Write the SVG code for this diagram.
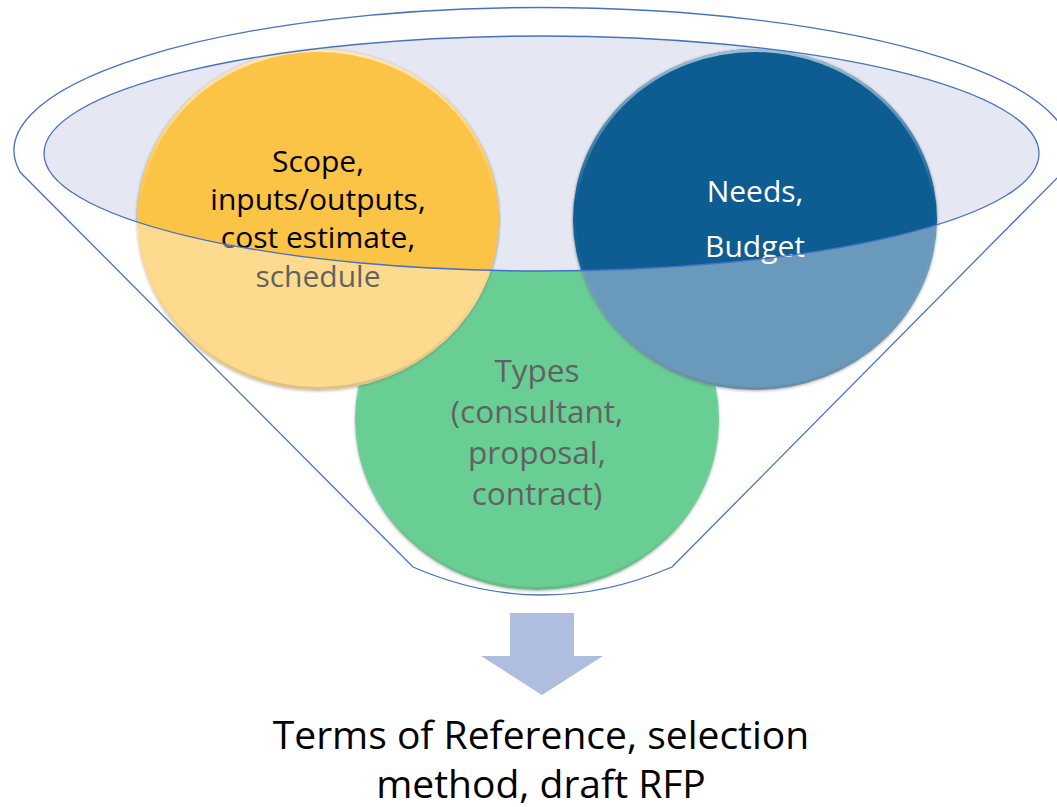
<svg xmlns="http://www.w3.org/2000/svg" width="1057" height="807" viewBox="0 0 1057 807">
<style>
.outline{fill:none;stroke:#4472C4;stroke-width:1.3}
.lbl{font-family:"Open Sans","Liberation Sans",sans-serif;text-anchor:middle}
.c30{font-size:30px}
.c32{font-size:31.5px}
.c40{font-size:39px}
.bev{fill:none;stroke:url(#bevel);stroke-width:3}
</style>
<defs>
<filter id="sh" x="-10%" y="-10%" width="120%" height="120%">
<feDropShadow dx="0" dy="1" stdDeviation="1.8" flood-color="#000" flood-opacity="0.5"/>
</filter>
<linearGradient id="bevel" x1="0" y1="0" x2="0" y2="1">
<stop offset="0" stop-color="#fff" stop-opacity="0.6"/>
<stop offset="0.45" stop-color="#fff" stop-opacity="0"/>
<stop offset="1" stop-color="#000" stop-opacity="0.2"/>
</linearGradient>
</defs>
<rect width="1057" height="807" fill="#fff"/>
<g id="funnel-body">
<path d="M20,172 A527.5,143 0 1 1 1063,172 L672,567 Q542,623 413,567 Z" fill="#fff"/>
</g>
<g id="node-types">
<ellipse cx="537" cy="419.5" rx="182" ry="170.5" fill="#0DB052" filter="url(#sh)"/>
<ellipse cx="537" cy="419.5" rx="180.5" ry="169" class="bev"/>
<text class="lbl c32" fill="#000"><tspan x="537" y="382">Types</tspan><tspan x="537" y="423">(consultant,</tspan><tspan x="537" y="464">proposal,</tspan><tspan x="537" y="505">contract)</tspan></text>
</g>
<g id="funnel-top">
<ellipse cx="541.5" cy="153.5" rx="497.5" ry="117.5" fill="#E5E7F2"/>
</g>
<g id="node-scope">
<ellipse cx="318" cy="219.5" rx="181" ry="170.5" fill="#FCC446" filter="url(#sh)"/>
<ellipse cx="318" cy="219.5" rx="179.5" ry="169" class="bev"/>
<text class="lbl c30" fill="#000"><tspan x="318" y="172">Scope,</tspan><tspan x="318" y="210">inputs/outputs,</tspan><tspan x="318" y="248">cost estimate,</tspan><tspan x="318" y="287">schedule</tspan></text>
</g>
<g id="node-needs">
<ellipse cx="755" cy="219.5" rx="182" ry="170.5" fill="#0A5C92" filter="url(#sh)"/>
<ellipse cx="755" cy="219.5" rx="180.5" ry="169" class="bev"/>
<text class="lbl c30" fill="#fff"><tspan x="755" y="202">Needs,</tspan><tspan x="755" y="257">Budget</tspan></text>
</g>
<g id="funnel-wash">
<path d="M20,172 A527.5,143 0 1 1 1063,172 L672,567 Q542,623 413,567 Z M44,153.5 A497.5,117.5 0 1 0 1039,153.5 A497.5,117.5 0 1 0 44,153.5 Z" fill="#fff" fill-opacity="0.38" fill-rule="evenodd"/>
</g>
<g id="funnel-outline">
<ellipse cx="541.5" cy="153.5" rx="497.5" ry="117.5" class="outline"/>
<path d="M20,172 A527.5,143 0 1 1 1063,172 L672,567 Q542,623 413,567 Z" class="outline"/>
</g>
<g id="connectors">
<polygon points="510,613 574,613 574,656 603,656 542,695 481,656 510,656" fill="#AFBDDE"/>
</g>
<g id="node-result">
<text class="lbl c40" fill="#000"><tspan x="541" y="749">Terms of Reference, selection</tspan><tspan x="541" y="798">method, draft RFP</tspan></text>
</g>
</svg>
